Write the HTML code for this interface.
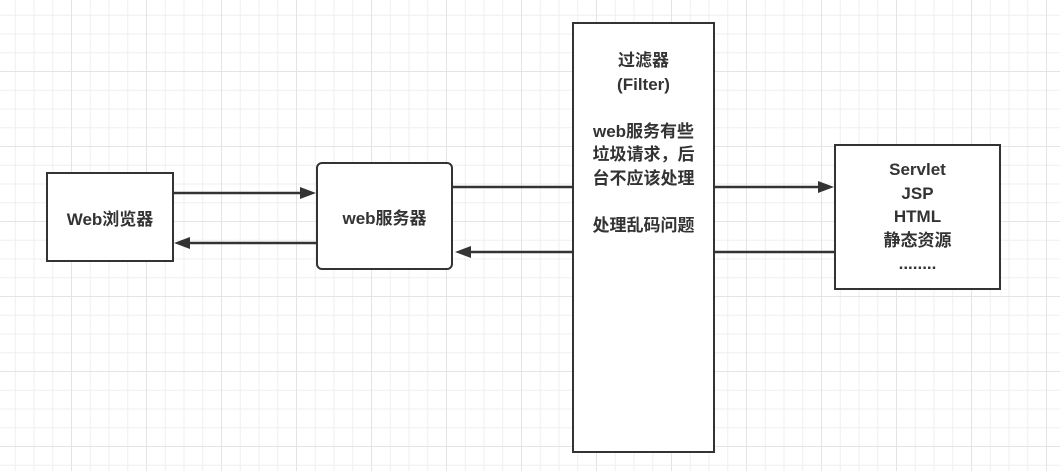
<!DOCTYPE html>
<html><head><meta charset="utf-8"><style>
html,body{margin:0;padding:0;}
body{width:1060px;height:471px;overflow:hidden;background:#fff;
background-image:linear-gradient(#e4e4e4 1px,transparent 1px),linear-gradient(90deg,#e4e4e4 1px,transparent 1px),linear-gradient(#efefef 1px,transparent 1px),linear-gradient(90deg,#efefef 1px,transparent 1px);
background-size:75px 75px,75px 75px,18.75px 18.75px,18.75px 18.75px;background-position:-4px -4px;position:relative;
font-family:"Liberation Sans","Noto Sans CJK SC",sans-serif;font-weight:bold;color:#333;font-size:17px;}
.b{position:absolute;border:2px solid #333;background:#fff;box-sizing:border-box;display:flex;align-items:center;justify-content:center;text-align:center;}
svg{position:absolute;left:0;top:0;}
</style></head><body>
<div class="b" style="left:46px;top:172px;width:128px;height:90px;">Web浏览器</div>
<div class="b" style="left:316px;top:162px;width:137px;height:108px;border-radius:6px;">web服务器</div>
<div class="b" style="left:572px;top:22px;width:143px;height:431px;align-items:flex-start;padding-top:25px;line-height:23.5px;">过滤器<br>(Filter)<br><br>web服务有些<br>垃圾请求，后<br>台不应该处理<br><br>处理乱码问题</div>
<div class="b" style="left:834px;top:144px;width:167px;height:146px;line-height:23.5px;">Servlet<br>JSP<br>HTML<br>静态资源<br>........</div>
<svg width="1060" height="471">
<g stroke="#333" stroke-width="2.5" fill="none">
<line x1="174" y1="193" x2="305" y2="193"/>
<line x1="316" y1="243" x2="186" y2="243"/>
<line x1="453" y1="187" x2="572" y2="187"/>
<line x1="715" y1="187" x2="823" y2="187"/>
<line x1="834" y1="252" x2="715" y2="252"/>
<line x1="572" y1="252" x2="467" y2="252"/>
</g>
<g fill="#333">
<polygon points="316,193 300,187 300,199"/>
<polygon points="174,243 190,237 190,249"/>
<polygon points="834,187 818,181 818,193"/>
<polygon points="455,252 471,246 471,258"/>
</g>
</svg>
</body></html>
